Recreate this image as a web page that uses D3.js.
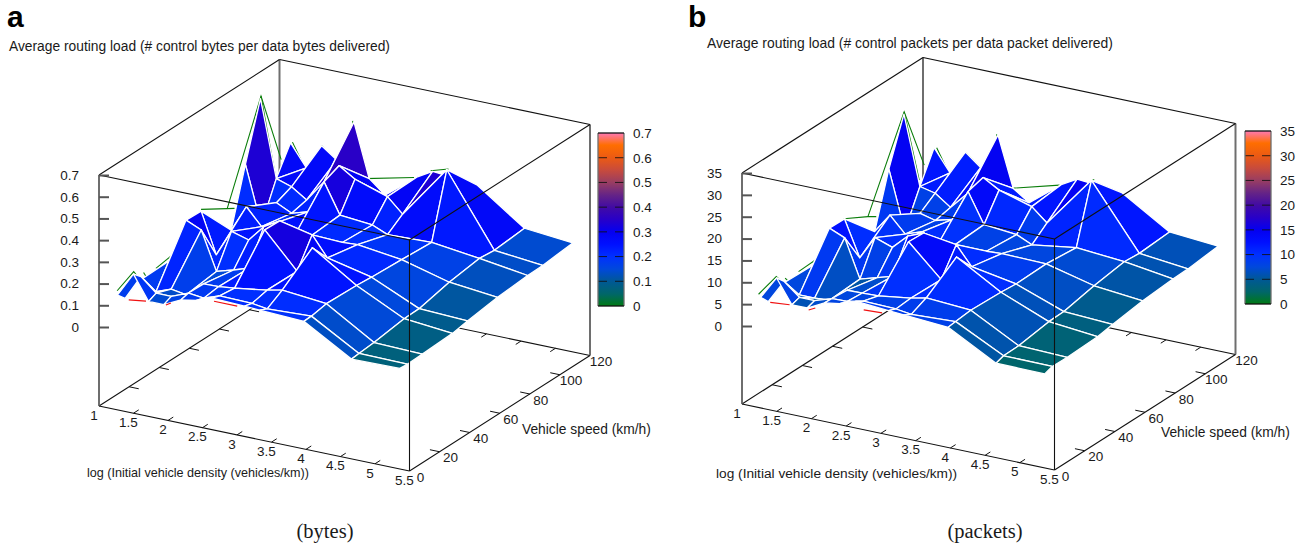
<!DOCTYPE html>
<html>
<head>
<meta charset="utf-8">
<title>Average routing load</title>
<script src="https://cdn.jsdelivr.net/npm/d3@7"></script>
<style>
body { margin: 0; background: #fff; }
text { font-family: "Liberation Sans", Arial, sans-serif; fill: #1a1a1a; }
.axis path { display: none; }
</style>
</head>
<body>
<script>
var width = 1298, height = 545;

// log density of each scan, speed of each row
var logDensity = [1.16, 1.39, 1.61, 1.83, 2.08, 2.30, 2.53, 3.00, 3.22, 3.86, 4.55, 5.25];
var speeds = [5, 10, 20, 40, 50, 70, 90, 100, 120];

var xTicks = [1, 1.5, 2, 2.5, 3, 3.5, 4, 4.5, 5, 5.5];
var yTicks = [0, 20, 40, 60, 80, 100, 120];
var zTicksBytes = [0, 0.1, 0.2, 0.3, 0.4, 0.5, 0.6, 0.7];
var zTicksPackets = [0, 5, 10, 15, 20, 25, 30, 35];

// one row per speed, one value per density
var loadBytes = [
  [.136,.247,.136,.136,.175,.187,.213,.207,.203,.194,.066,.070],
  [.098,.214,.152,.152,.184,.175,.201,.197,.187,.196,.070,.067],
  [.138,.100,.126,.115,.182,.184,.192,.214,.229,.209,.076,.069],
  [.141,.341,.310,.134,.157,.180,.372,.212,.335,.204,.097,.076],
  [.143,.338,.151,.274,.251,.327,.369,.336,.244,.198,.099,.089],
  [.189,.161,.284,.207,.246,.192,.207,.212,.217,.190,.132,.109],
  [.361,.095,.214,.180,.204,.356,.218,.204,.174,.181,.153,.121],
  [.619,.266,.243,.197,.297,.386,.339,.290,.224,.471,.146,.123],
  [.327,.227,.343,.292,.484,.238,.177,.293,.332,.313,.159,.138]
];
var loadPackets = [
  [6.0,11.2,5.8,5.8,7.8,8.4,9.7,9.1,8.9,8.2,2.3,2.2],
  [3.9,9.3,6.4,6.4,7.7,7.8,8.6,8.4,7.9,8.4,2.9,2.8],
  [5.9,4.0,4.0,4.3,7.4,7.5,7.6,8.7,9.5,8.8,3.0,2.7],
  [5.7,14.9,13.4,4.7,5.9,6.9,15.6,8.5,14.4,8.5,4.1,3.0],
  [5.7,14.8,6.6,12.0,10.6,13.9,15.4,14.3,10.0,8.2,4.2,3.6],
  [8.0,7.5,12.0,8.4,9.8,7.6,8.1,8.4,8.6,8.4,5.7,4.6],
  [16.6,3.3,8.0,7.1,8.2,15.3,8.5,7.8,6.2,7.7,6.8,5.2],
  [27.0,11.2,10.4,7.9,12.0,16.3,14.2,12.0,9.0,20.9,6.5,5.3],
  [14.9,9.9,15.4,12.6,20.9,9.4,6.9,12.7,14.6,13.7,7.0,6.1]
];

// cells of the surface that only span three corners: [row, density index],
// the corner at that row and index is left out
var foldedCells = [[7, 0], [5, 0]];

// upper side wire that shows past the filled surface: [log density, speed, load]
var greenBytes = [
  [[1.154,5,.155],[1.394,5,.259],[1.389,10,.194]],
  [[1.428,10,.235],[1.495,10,.205]],
  [[1.389,20,.207],[1.279,40,.196]],
  [[1.389,50,.346],[1.332,70,.257],[1.438,70,.265]],
  [[1.332,70,.257],[1.168,100,.631],[1.46,100,.358]],
  [[1.168,100,.631],[1.375,100,.28]],
  [[1.188,120,.332],[1.365,120,.226]],
  [[1.606,120,.345],[1.798,120,.289]],
  [[2.06,120,.488],[2.23,120,.233],[2.95,120,.286]],
  [[3.19,120,.333],[3.885,100,.476]]
];
var greenPackets = [
  [[1.13,5,6.6],[1.385,5,11.5],[1.38,10,8.9]],
  [[1.404,10,10.1],[1.452,10,9.5]],
  [[1.38,20,9.3],[1.25,40,7.8]],
  [[1.38,50,14.8],[1.293,70,10.6],[1.413,70,11]],
  [[1.293,70,10.6],[1.163,100,27.5],[1.452,100,16.3]],
  [[1.163,100,27.5],[1.38,100,12.6]],
  [[1.197,120,15],[1.365,120,10]],
  [[1.61,120,15.3],[1.813,120,12.7]],
  [[2.06,120,21],[2.236,120,9.2],[2.966,120,12.4]],
  [[3.4,120,14.6],[3.9,100,21.2]]
];
// lower side wire along the front of the surface
var redBytes = [
  [[1.322,5,.124],[1.572,5,.135]],
  [[1.861,5,.136],[1.933,5,.150]],
  [[2.558,5,.2],[2.894,5,.2]]
];
var redPackets = [
  [[1.298,5,5.3],[1.577,5,5.7]],
  [[1.851,5,5.4],[1.947,5,6.2]],
  [[2.644,5,8.1],[2.909,5,8.3]]
];

// colour box palette, position 0..1 along the box
var palettePos = [0, .07, .143, .214, .286, .357, .43, .5, .57, .64, .71, .786, .857, .93, 1];
var paletteCol = ["#007a14","#006669","#005896","#0048dc","#0030ff","#0010ff","#0500f0","#2800c8","#410aa5","#642387","#963c64","#c84b3c","#eb5a14","#ff6e00","#ff78b4"];

var svg = d3.select("body").append("svg")
    .attr("width", width)
    .attr("height", height);

var defs = svg.append("defs");
var grad = defs.append("linearGradient").attr("id", "bar")
    .attr("x1", 0).attr("y1", 1).attr("x2", 0).attr("y2", 0);
palettePos.forEach(function(p, i){
    grad.append("stop").attr("offset", p).attr("stop-color", paletteCol[i]);
});

function drawPanel(p){
    var g = svg.append("g");
    var u = d3.scaleLinear().domain([1, 5.5]).range([0, 1]);
    var v = d3.scaleLinear().domain([0, 120]).range([0, 1]);
    var zMax = p.zTicks[p.zTicks.length - 1];
    var h = d3.scaleLinear().domain([0, zMax]).range([p.h0, p.hTop]);
    var color = d3.scaleLinear()
        .domain(palettePos.map(function(d){ return d * zMax; }))
        .range(paletteCol);

    function project(x, y, z){
        var a = u(x), b = v(y);
        return [
            p.A[0] + a * (p.B[0] - p.A[0]) + b * (p.C[0] - p.B[0]),
            p.A[1] + a * (p.B[1] - p.A[1]) + b * (p.C[1] - p.B[1]) - h(z)
        ];
    }
    // z at the floor and the lid of the box
    var zFloor = h.invert(0), zTop = zMax;

    function seg(x1, y1, z1, x2, y2, z2, col, w){
        var a = project(x1, y1, z1), b = project(x2, y2, z2);
        g.append("line")
            .attr("x1", a[0]).attr("y1", a[1])
            .attr("x2", b[0]).attr("y2", b[1])
            .attr("stroke", col).attr("stroke-width", w);
    }

    // back of the box
    seg(1, 0, zFloor, 1, 120, zFloor, "#111", 1.1);
    seg(1, 120, zFloor, 5.5, 120, zFloor, "#111", 1.1);
    seg(1, 120, zFloor, 1, 120, zTop, "#6e6e6e", 2);
    seg(1, 0, zFloor, 1, 0, zTop, "#6e6e6e", 2);
    seg(5.5, 120, zFloor, 5.5, 120, zTop, "#6e6e6e", 2);
    seg(1, 0, zTop, 1, 120, zTop, "#111", 1.1);
    seg(1, 120, zTop, 5.5, 120, zTop, "#111", 1.1);

    // tics on the floor
    xTicks.slice(1, -1).forEach(function(t){
        seg(t, 0, zFloor, t, 3.5, zFloor, "#111", 1);
        seg(t, 120, zFloor, t, 116.5, zFloor, "#111", 1);
    });
    yTicks.slice(1, -1).forEach(function(t){
        seg(1, t, zFloor, 1.14, t, zFloor, "#111", 1);
        seg(5.5, t, zFloor, 5.36, t, zFloor, "#111", 1);
    });

    var line = d3.line()
        .x(function(d){ return project(d[0], d[1], d[2])[0]; })
        .y(function(d){ return project(d[0], d[1], d[2])[1]; });

    g.append("g").selectAll("path")
        .data(p.green)
        .enter().append("path")
        .attr("d", line)
        .attr("fill", "none")
        .attr("stroke", "#0a7d0a")
        .attr("stroke-width", 1.1);

    // surface, far rows first
    var cells = [];
    d3.range(speeds.length - 2, -1, -1).forEach(function(r){
        d3.range(0, logDensity.length - 1).forEach(function(c){
            var corners = [
                [logDensity[c], speeds[r], p.load[r][c]],
                [logDensity[c + 1], speeds[r], p.load[r][c + 1]],
                [logDensity[c + 1], speeds[r + 1], p.load[r + 1][c + 1]],
                [logDensity[c], speeds[r + 1], p.load[r + 1][c]]
            ];
            var folded = foldedCells.some(function(f){ return f[0] === r && f[1] === c; });
            cells.push(folded ? corners.slice(1) : corners);
        });
    });
    g.append("g").selectAll("path")
        .data(cells)
        .enter().append("path")
        .attr("d", function(d){ return line(d) + "Z"; })
        .attr("fill", function(d){ return color(d3.mean(d, function(e){ return e[2]; })); })
        .attr("stroke", "#fff")
        .attr("stroke-width", 1.3)
        .attr("stroke-linejoin", "round");

    g.append("g").selectAll("path")
        .data(p.red)
        .enter().append("path")
        .attr("d", line)
        .attr("fill", "none")
        .attr("stroke", "#f01010")
        .attr("stroke-width", 1.1);

    // front of the box, over the surface
    seg(1, 0, zTop, 5.5, 0, zTop, "#111", 1.1);
    seg(5.5, 0, zTop, 5.5, 120, zTop, "#111", 1.1);
    seg(5.5, 0, zFloor, 5.5, 0, zTop, "#111", 1.1);
    seg(1, 0, zFloor, 5.5, 0, zFloor, "#111", 1.1);
    seg(5.5, 0, zFloor, 5.5, 120, zFloor, "#111", 1.1);

    // z axis
    var zScale = d3.scaleLinear().domain([0, zMax])
        .range([p.A[1] - p.h0, p.A[1] - p.hTop]);
    var zAxis = g.append("g")
        .attr("class", "axis")
        .attr("transform", "translate(" + p.A[0] + ",0)")
        .call(d3.axisLeft(zScale).tickValues(p.zTicks).tickFormat(String)
            .tickSizeInner(-10).tickSizeOuter(0).tickPadding(20));
    zAxis.selectAll("line").attr("stroke", "#555").attr("stroke-width", 2);
    zAxis.selectAll("text").attr("font-size", 13.5);

    // floor axis labels
    g.append("g").selectAll("text")
        .data(xTicks)
        .enter().append("text")
        .attr("x", function(d){ return project(d, 0, zFloor)[0] - 5; })
        .attr("y", function(d){ return project(d, 0, zFloor)[1] + 9; })
        .attr("dy", "0.35em")
        .attr("text-anchor", "middle")
        .attr("font-size", 13.5)
        .text(String);
    g.append("g").selectAll("text")
        .data(yTicks)
        .enter().append("text")
        .attr("x", function(d){ return project(5.5, d, zFloor)[0] + 11; })
        .attr("y", function(d){ return project(5.5, d, zFloor)[1] + 6; })
        .attr("dy", "0.35em")
        .attr("text-anchor", "middle")
        .attr("font-size", 13.5)
        .text(String);

    // colour box
    var barScale = d3.scaleLinear().domain([0, zMax]).range([p.barY1, p.barY0]);
    g.append("rect")
        .attr("x", p.barX).attr("y", p.barY0)
        .attr("width", p.barW).attr("height", p.barY1 - p.barY0)
        .attr("fill", "url(#bar)");
    g.append("g").selectAll("line")
        .data(p.zTicks.slice(1, -1))
        .enter().append("line")
        .attr("x1", p.barX).attr("x2", p.barX + p.barW)
        .attr("y1", barScale).attr("y2", barScale)
        .attr("stroke", "#111")
        .attr("stroke-opacity", 0.85)
        .attr("stroke-dasharray", "9,8,9");
    g.append("line").attr("x1", p.barX).attr("x2", p.barX).attr("y1", p.barY0).attr("y2", p.barY1)
        .attr("stroke", "#6e6e6e").attr("stroke-width", 1.3);
    g.append("line").attr("x1", p.barX + p.barW).attr("x2", p.barX + p.barW).attr("y1", p.barY0).attr("y2", p.barY1)
        .attr("stroke", "#6e6e6e").attr("stroke-width", 1.3);
    g.append("line").attr("x1", p.barX).attr("x2", p.barX + p.barW).attr("y1", p.barY0).attr("y2", p.barY0)
        .attr("stroke", "#111").attr("stroke-width", 1.3);
    g.append("line").attr("x1", p.barX).attr("x2", p.barX + p.barW).attr("y1", p.barY1).attr("y2", p.barY1)
        .attr("stroke", "#111").attr("stroke-width", 1.3);
    var barAxis = g.append("g")
        .attr("class", "axis")
        .attr("transform", "translate(" + (p.barX + p.barW) + ",0)")
        .call(d3.axisRight(barScale).tickValues(p.zTicks).tickFormat(String)
            .tickSize(0).tickPadding(9));
    barAxis.selectAll("text").attr("font-size", 13.5);

    // titles
    g.append("text").attr("x", p.tag[0]).attr("y", p.tag[1])
        .attr("font-size", 30).attr("font-weight", "bold").style("fill", "#000").text(p.tagText);
    g.append("text").attr("x", p.title[0]).attr("y", p.title[1])
        .attr("font-size", p.titleSize).text(p.titleText);
    g.append("text").attr("x", p.xLabel[0]).attr("y", p.xLabel[1])
        .attr("font-size", p.xLabelSize).text("log (Initial vehicle density (vehicles/km))");
    g.append("text").attr("x", p.yLabel[0]).attr("y", p.yLabel[1])
        .attr("font-size", 13.8).text("Vehicle speed (km/h)");
    g.append("text").attr("x", p.caption[0]).attr("y", p.caption[1])
        .attr("text-anchor", "middle")
        .attr("font-size", 20.5)
        .style("font-family", "'Liberation Serif', serif")
        .text(p.captionText);
}

drawPanel({
    A: [99, 406], B: [409.5, 471], C: [590, 355.5],
    h0: 79, hTop: 231,
    zTicks: zTicksBytes, load: loadBytes, green: greenBytes, red: redBytes,
    barX: 598, barW: 26, barY0: 133, barY1: 306,
    tag: [7, 27], tagText: "a",
    title: [9, 51], titleText: "Average routing load (# control bytes per data bytes delivered)", titleSize: 13.8,
    xLabel: [87, 477], xLabelSize: 12.6,
    yLabel: [522, 434],
    caption: [325, 538], captionText: "(bytes)"
});

drawPanel({
    A: [742, 404], B: [1054.5, 470], C: [1235.5, 354.5],
    h0: 78, hTop: 231,
    zTicks: zTicksPackets, load: loadPackets, green: greenPackets, red: redPackets,
    barX: 1245, barW: 26, barY0: 131, barY1: 304,
    tag: [688, 27], tagText: "b",
    title: [707, 48], titleText: "Average routing load (# control packets per data packet delivered)", titleSize: 13.9,
    xLabel: [716, 478], xLabelSize: 13.7,
    yLabel: [1161, 437],
    caption: [985, 538], captionText: "(packets)"
});
</script>
</body>
</html>
